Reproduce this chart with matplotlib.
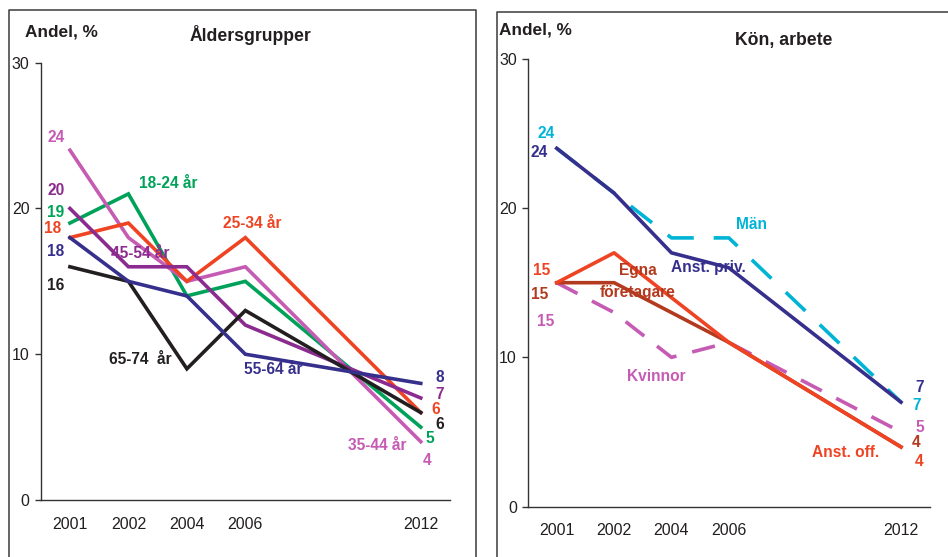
import matplotlib
matplotlib.use("Agg")
import matplotlib.pyplot as plt
from matplotlib.lines import Line2D

# ---------------- data ----------------
years = ["2001", "2002", "2004", "2006", "2012"]

age_18_24 = [19, 21, 14, 15, 5]
age_25_34 = [18, 19, 15, 18, 6]
age_35_44 = [24, 18, 15, 16, 4]
age_45_54 = [20, 16, 16, 12, 7]
age_55_64 = [18, 15, 14, 10, 8]
age_65_74 = [16, 15, 9, 13, 6]

man = [24, 21, 18, 18, 7]
kvinnor = [15, 13, 10, 11, 5]
anst_priv = [24, 21, 17, 16, 7]
egna = [15, 15, 13, 11, 4]
anst_off = [15, 17, 14, 11, 4]

yticks = [0, 10, 20, 30]

# ---------------- layout ----------------
xpos = [0, 1, 2, 3, 6]
W, H = 948, 557
plt.rcParams['font.family'] = ['Liberation Sans', 'DejaVu Sans']

fig = plt.figure(figsize=(W / 100, H / 100), dpi=100)
fig.patch.set_facecolor('white')


def fx(px):
    return px / W


def fy(py):
    return 1 - py / H


GREEN = "#00A25A"
RED = "#EF4423"
PINK = "#C65BB4"
PURPLE = "#8C2B8F"
BLUE = "#36308C"
BLACK = "#231F20"
CYAN = "#00B4D6"
BROWN = "#B33A1E"

LW = 2.6

# panel frames
for x0, y0, x1, y1 in [(9, 10, 475.7, 600), (496.7, 12, 1000, 600)]:
    fig.add_artist(Line2D([fx(x0), fx(x0), fx(x1), fx(x1)],
                          [fy(y1), fy(y0), fy(y0), fy(y1)],
                          transform=fig.transFigure, color="#3a3a3a", lw=1.1))


def setup(ax):
    ax.set_xlim(-0.5, 6.5)
    ax.set_ylim(0, 30)
    ax.spines['top'].set_visible(False)
    ax.spines['right'].set_visible(False)
    for s in ['left', 'bottom']:
        ax.spines[s].set_color("#333333")
        ax.spines[s].set_linewidth(1.0)
    ax.set_xticks(xpos)
    ax.set_xticklabels(years)
    ax.set_yticks(yticks)
    ax.tick_params(axis='x', length=0, pad=12, labelsize=11.5, colors="#231F20")
    ax.tick_params(axis='y', length=4, width=1.0, pad=4, labelsize=11.5,
                   colors="#333333", labelcolor="#231F20")
    ax.set_facecolor('none')


# ---------------- left panel ----------------
ax1 = fig.add_axes([fx(40.7), fy(500), fx(450) - fx(40.7), fy(62.7) - fy(500)])
setup(ax1)
for vals, col in [(age_18_24, GREEN), (age_35_44, PINK), (age_25_34, RED),
                  (age_45_54, PURPLE), (age_65_74, BLACK), (age_55_64, BLUE)]:
    ax1.plot(xpos, vals, color=col, lw=LW, solid_joinstyle='miter')

FS = 11.2
lab = dict(fontsize=FS, fontweight='bold', ha='center', va='center')
# start values
ax1.text(-0.24, 24.9, str(age_35_44[0]), color=PINK, **lab)
ax1.text(-0.24, 21.2, str(age_45_54[0]), color=PURPLE, **lab)
ax1.text(-0.24, 19.7, str(age_18_24[0]), color=GREEN, **lab)
ax1.text(-0.29, 18.6, str(age_25_34[0]), color=RED, **lab)
ax1.text(-0.24, 17.05, str(age_55_64[0]), color=BLUE, **lab)
ax1.text(-0.24, 14.7, str(age_65_74[0]), color=BLACK, **lab)
# end values
ax1.text(6.33, 8.4, str(age_55_64[-1]), color=BLUE, **lab)
ax1.text(6.33, 7.25, str(age_45_54[-1]), color=PURPLE, **lab)
ax1.text(6.26, 6.2, str(age_25_34[-1]), color=RED, **lab)
ax1.text(6.33, 5.2, str(age_65_74[-1]), color=BLACK, **lab)
ax1.text(6.16, 4.2, str(age_18_24[-1]), color=GREEN, **lab)
ax1.text(6.11, 2.74, str(age_35_44[-1]), color=PINK, **lab)
# series names
ax1.text(1.68, 21.7, "18-24 år", color=GREEN, **lab)
ax1.text(3.11, 19.0, "25-34 år", color=RED, **lab)
ax1.text(1.21, 16.9, "45-54 år", color=PURPLE, **lab)
ax1.text(1.21, 9.66, "65-74  år", color=BLACK, **lab)
ax1.text(3.47, 8.97, "55-64 år", color=BLUE, **lab)
ax1.text(5.26, 3.77, "35-44 år", color=PINK, **lab)

fig.text(fx(25), fy(32), "Andel, %", fontsize=12.4, fontweight='bold',
         ha='left', va='center', color=BLACK)
fig.text(fx(250), fy(35), "Åldersgrupper", fontsize=12.7, fontweight='bold',
         ha='center', va='center', color=BLACK)

# ---------------- right panel ----------------
ax2 = fig.add_axes([fx(528), fy(506.7), fx(929.7) - fx(528), fy(58.7) - fy(506.7)])
setup(ax2)
ax2.plot(xpos, kvinnor, color=PINK, lw=LW, linestyle=(0, (6.5, 4.5)))
ax2.plot(xpos, man, color=CYAN, lw=LW, linestyle=(0, (7.5, 5.5)))
ax2.plot(xpos, egna, color=BROWN, lw=LW)
ax2.plot(xpos, anst_off, color=RED, lw=LW)
ax2.plot(xpos, anst_priv, color=BLUE, lw=LW)

ax2.text(-0.19, 24.96, str(man[0]), color=CYAN, **lab)
ax2.text(-0.31, 23.75, str(anst_priv[0]), color=BLUE, **lab)
ax2.text(-0.27, 15.84, str(anst_off[0]), color=RED, **lab)
ax2.text(-0.29, 14.2, str(egna[0]), color=BROWN, **lab)
ax2.text(-0.2, 12.4, str(kvinnor[0]), color=PINK, **lab)

ax2.text(6.32, 7.95, str(anst_priv[-1]), color=BLUE, **lab)
ax2.text(6.27, 6.8, str(man[-1]), color=CYAN, **lab)
ax2.text(6.32, 5.33, str(kvinnor[-1]), color=PINK, **lab)
ax2.text(6.27, 4.27, str(egna[-1]), color=BROWN, **lab)
ax2.text(6.32, 3.0, str(anst_off[-1]), color=RED, **lab)

ax2.text(3.4, 18.9, "Män", color=CYAN, **lab)
ax2.text(1.41, 15.84, "Egna", color=BROWN, **lab)
ax2.text(1.41, 14.37, "företagare", color=BROWN, **lab)
ax2.text(2.65, 16.0, "Anst. priv.", color=BLUE, **lab)
ax2.text(1.73, 8.7, "Kvinnor", color=PINK, **lab)
ax2.text(5.03, 3.6, "Anst. off.", color=RED, **lab)

fig.text(fx(499), fy(30), "Andel, %", fontsize=12.4, fontweight='bold',
         ha='left', va='center', color=BLACK)
fig.text(fx(783.7), fy(40), "Kön, arbete", fontsize=12.7, fontweight='bold',
         ha='center', va='center', color=BLACK)

fig.savefig("out.png", dpi=100, facecolor='white')
